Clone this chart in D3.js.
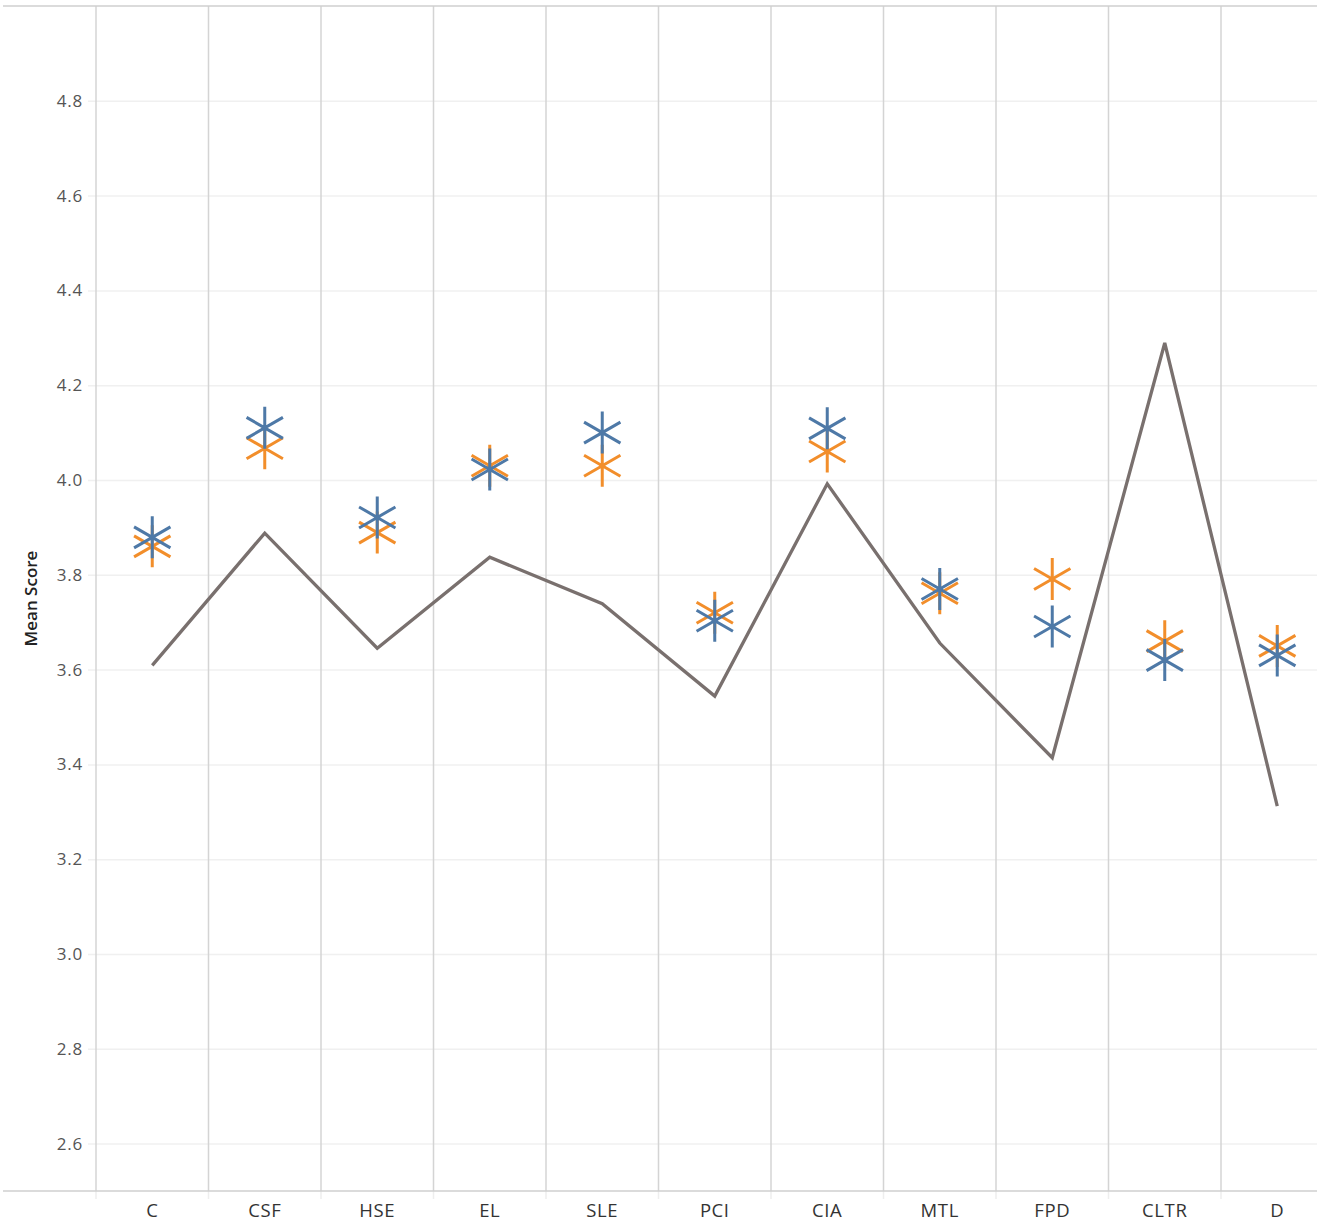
<!DOCTYPE html>
<html>
<head>
<meta charset="utf-8">
<script src="https://cdn.jsdelivr.net/npm/d3@7"></script>
<style>
  body { margin: 0; background: #fff; }
  text { font-family: "Open Sans", "Noto Sans", sans-serif; }
</style>
</head>
<body>
<div id="chart"></div>
<script>
// categories on the x axis
const categories = ["C", "CSF", "HSE", "EL", "SLE", "PCI", "CIA", "MTL", "FPD", "CLTR", "D"];
// grey line series
const lineValues = [3.609, 3.888, 3.645, 3.837, 3.739, 3.544, 3.992, 3.656, 3.414, 4.289, 3.312];
// blue asterisks
const blueValues = [3.879, 4.110, 3.921, 4.022, 4.100, 3.703, 4.109, 3.770, 3.691, 3.620, 3.630];
// orange asterisks
const orangeValues = [3.860, 4.067, 3.889, 4.030, 4.030, 3.720, 4.060, 3.761, 3.791, 3.660, 3.650];
// y tick labels
const yTicks = [2.6, 2.8, 3.0, 3.2, 3.4, 3.6, 3.8, 4.0, 4.2, 4.4, 4.6, 4.8];

const chartW = 1317, chartH = 1223;
const plotLeft = 96, plotTop = 6, plotBottom = 1191;
const colW = 112.5;

const svg = d3.select("#chart")
  .append("svg")
  .attr("width", chartW)
  .attr("height", chartH);

const x = d3.scaleBand()
  .domain(categories)
  .range([plotLeft, plotLeft + colW * categories.length])
  .padding(0);

const y = d3.scaleLinear()
  .domain([2.5, 5.0])
  .range([plotBottom, plotTop]);

// horizontal grid + y labels
const yAxis = svg.append("g")
  .attr("transform", `translate(${plotLeft},0)`)
  .call(d3.axisLeft(y).tickValues(yTicks).tickFormat(d3.format(".1f"))
    .tickSize(-(chartW - plotLeft)).tickPadding(13));
yAxis.select(".domain").remove();
yAxis.selectAll(".tick line")
  .attr("x1", -8)
  .attr("stroke", "#f0f0f0")
  .attr("stroke-width", 1.5);
yAxis.selectAll(".tick text")
  .attr("fill", "#555")
  .style("font-size", "17px")
  .style("letter-spacing", "0.8px");

// column separators
const seps = d3.range(categories.length + 1).map(i => x.range()[0] + i * x.step());
svg.append("g").selectAll("line")
  .data(seps)
  .enter()
  .append("line")
    .attr("x1", d => d).attr("x2", d => d)
    .attr("y1", plotBottom).attr("y2", plotBottom + 8)
    .attr("stroke", "#eeeeee")
    .attr("stroke-width", 1.5);
svg.append("g").selectAll("line")
  .data(seps)
  .enter()
  .append("line")
    .attr("x1", d => d).attr("x2", d => d)
    .attr("y1", plotTop).attr("y2", plotBottom)
    .attr("stroke", "#d4d4d4")
    .attr("stroke-width", 1.5);

// top and bottom borders
svg.append("line")
  .attr("x1", 3).attr("x2", chartW)
  .attr("y1", plotTop).attr("y2", plotTop)
  .attr("stroke", "#cfcfcf").attr("stroke-width", 1.5);
svg.append("line")
  .attr("x1", 3).attr("x2", chartW)
  .attr("y1", plotBottom).attr("y2", plotBottom)
  .attr("stroke", "#cfcfcf").attr("stroke-width", 1.5);

// x labels
const xAxis = svg.append("g")
  .attr("transform", `translate(0,${plotBottom})`)
  .call(d3.axisBottom(x).tickSize(0).tickPadding(13));
xAxis.select(".domain").remove();
xAxis.selectAll(".tick text")
  .attr("fill", "#333")
  .style("font-size", "18.5px")
  .style("letter-spacing", "0.6px");

// y title
svg.append("text")
  .attr("transform", `translate(37,${(plotTop + plotBottom) / 2}) rotate(-90)`)
  .attr("text-anchor", "middle")
  .attr("fill", "#222")
  .style("font-size", "17px")
  .style("font-weight", 600)
  .text("Mean Score");

const cx = d => x(d) + x.bandwidth() / 2;

// grey line
const line = d3.line()
  .x((d, i) => cx(categories[i]))
  .y(d => y(d));
svg.append("path")
  .datum(lineValues)
  .attr("d", line)
  .attr("fill", "none")
  .attr("stroke", "#79706e")
  .attr("stroke-width", 3.3)
  .attr("stroke-linejoin", "miter");

// asterisks
const star = d3.symbol().type(d3.symbolAsterisk).size(1248);
function drawStars(values, color) {
  svg.append("g").selectAll("path")
    .data(values)
    .enter()
    .append("path")
      .attr("d", star)
      .attr("transform", (d, i) => `translate(${cx(categories[i])},${y(d)})`)
      .attr("fill", "none")
      .attr("stroke", color)
      .attr("stroke-width", 3);
}
drawStars(orangeValues, "#f28e2b");
drawStars(blueValues, "#4e79a7");
</script>
</body>
</html>
